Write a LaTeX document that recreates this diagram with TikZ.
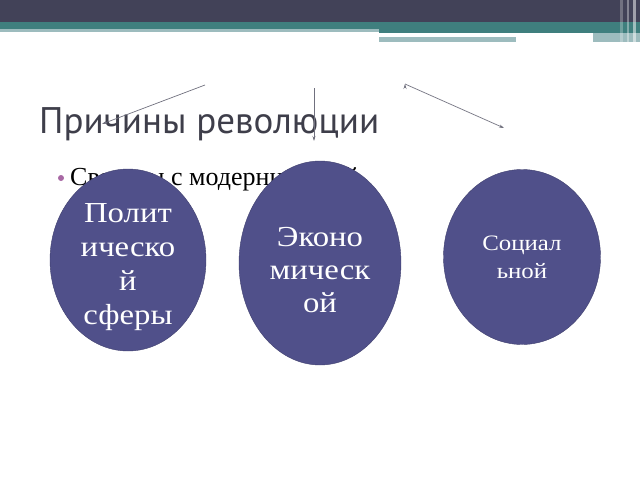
\documentclass[tikz,border=0pt]{standalone}
\usepackage{fontspec}
\setmainfont{Liberation Serif}
\newfontfamily\titlefont{PT Sans}
\newfontfamily\spherefont[FakeStretch=1.13]{Liberation Serif}
\usepackage{tikz}
\usetikzlibrary{arrows.meta}
\usetikzlibrary{shapes.geometric}
\definecolor{bardark}{HTML}{424258}
\definecolor{barteal}{HTML}{3F7F7E}
\definecolor{barlight}{HTML}{9DBCBE}
\definecolor{titlegray}{HTML}{3E3E4A}
\definecolor{bulletpink}{HTML}{A868A4}
\definecolor{sphere}{HTML}{50508A}
\definecolor{arrowgray}{HTML}{70707E}
\tikzset{
  sphere/.style={ellipse, fill=sphere, draw=sphere!80!black, line width=0.4pt,
    inner sep=0pt},
  sphere text/.style={text=white, align=center, inner sep=0pt},
  cause/.style={-{Stealth[length=5pt,width=3pt]}, draw=arrowgray, line width=0.7pt}
}

\begin{document}
\begin{tikzpicture}[x=1pt, y=-1pt]
    \useasboundingbox (0,0) rectangle (640,480);

    % top bar
    \fill[bardark] (0,0) rectangle (640,22);
    \fill[barteal] (0,22) rectangle (640,29);
    \fill[barteal] (379,29) rectangle (640,33);
    \fill[barlight] (0,29) rectangle (379,32);
    \fill[barlight] (379,37) rectangle (516,42);
    \fill[barlight] (593,33) rectangle (640,42);
    \fill[white, opacity=0.25] (620,0) rectangle (623,42);
    \fill[white, opacity=0.35] (627,0) rectangle (629,42);
    \fill[white, opacity=0.5] (633,0) rectangle (636,42);

    % title and bullet
    \node[anchor=base west, inner sep=0, text=titlegray,
      font=\titlefont\fontsize{37}{42}\selectfont]
      (Title) at (39,133) {Причины революции};
    \node[anchor=base west, inner sep=0,
      font=\fontsize{26}{30}\selectfont]
      (Bullet) at (70,185) {Связаны с модернизацией};
    \fill[bulletpink] (61,178) circle (3);

    % spheres
    \node[sphere, minimum width=156, minimum height=182,
      label={[sphere text, yshift=-7pt, font=\spherefont\fontsize{29}{34}\selectfont]
        center:{Полит\\ическо\\й\\сферы}}]
      (Political) at (128,260) {};
    \node[sphere, minimum width=162, minimum height=204,
      label={[sphere text, yshift=-7pt, font=\spherefont\fontsize{29}{33}\selectfont]
        center:{Эконо\\мическ\\ой}}]
      (Economic) at (320,263) {};
    \node[sphere, minimum width=157, minimum height=175,
      label={[sphere text, font=\spherefont\fontsize{22}{28}\selectfont]
        center:{Социал\\ьной}}]
      (Social) at (522,257) {};

    % arrows
    \coordinate (PolTail) at (205,85);
    \coordinate (PolHead) at (102,124);
    \coordinate (EcoTail) at (314,88);
    \coordinate (EcoHead) at (314,141);
    \coordinate (SocTail) at (405,84);
    \coordinate (SocHead) at (504,128);

    \path[cause]
      (PolTail) edge (PolHead)
      (EcoTail) edge (EcoHead)
      (SocTail) edge (SocHead);

  \end{tikzpicture}
\end{document}
